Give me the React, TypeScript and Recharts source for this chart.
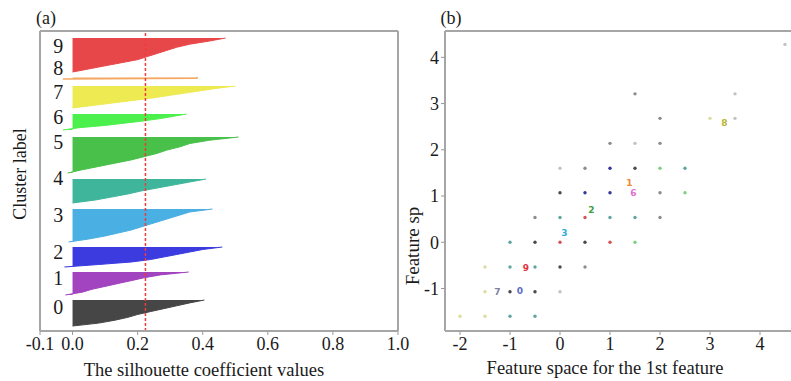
import React from "react";
import {
  ComposedChart,
  ScatterChart,
  Area,
  Scatter,
  XAxis,
  YAxis,
  ReferenceLine,
} from "recharts";

const SERIF = "'Liberation Serif', 'Times New Roman', serif";
const FRAME = { stroke: "#a6a6a6", strokeWidth: 2 };

// ---- (a) silhouette plot ----
const clusterIds = [0, 1, 2, 3, 4, 5, 6, 7, 8, 9];
const clusterColors = [
  "#464646", "#a243c0", "#3b3be0", "#4aafe2", "#3fb69c",
  "#48c04a", "#4cf04c", "#eeea52", "#f4a862", "#e8474a",
];
const clusterLower = [5, 36, 64, 89, 128, 158, 201, 223, 252, 259];
const clusterSize = [26, 23, 20, 33, 24, 36, 16, 22, 1.5, 34];

const sil0 = [0, 0.08, 0.13, 0.17, 0.2, 0.24, 0.28, 0.32, 0.36, 0.405];
const sil1 = [-0.022, 0.03, 0.06, 0.1, 0.14, 0.18, 0.22, 0.27, 0.357];
const sil2 = [-0.025, 0.08, 0.18, 0.24, 0.28, 0.32, 0.36, 0.4, 0.46];
const sil3 = [-0.012, 0.05, 0.1, 0.14, 0.18, 0.21, 0.24, 0.27, 0.3, 0.33, 0.36, 0.43];
const sil4 = [0, 0.07, 0.12, 0.17, 0.21, 0.26, 0.31, 0.36, 0.41];
const sil5 = [-0.015, 0.03, 0.08, 0.13, 0.18, 0.22, 0.26, 0.29, 0.33, 0.36, 0.42, 0.51];
const sil6 = [-0.03, 0.02, 0.1, 0.16, 0.22, 0.27, 0.31, 0.35];
const sil7 = [0, 0.06, 0.12, 0.18, 0.24, 0.29, 0.34, 0.39, 0.44, 0.5];
const sil8 = [-0.03, 0.38, 0.385];
const sil9 = [0, 0.05, 0.1, 0.15, 0.2, 0.23, 0.26, 0.29, 0.32, 0.36, 0.42, 0.47];
const silhouettes = [sil0, sil1, sil2, sil3, sil4, sil5, sil6, sil7, sil8, sil9];

const avgSilhouette = 0.224;
const silTicks = [-0.1, 0, 0.2, 0.4, 0.6, 0.8, 1.0];

const labelNames = ["0", "1", "2", "3", "4", "5", "6", "7", "8", "9"];
const labelY = [24, 53, 79, 116, 153, 189, 214, 239, 263, 285];
const labelX = -0.044;

const silRows = clusterIds.flatMap((k) => {
  const vals = silhouettes[k];
  return vals.map((v, i) => ({
    y: clusterLower[k] + (clusterSize[k] * i) / (vals.length - 1),
    ["c" + k]: v,
  }));
});
const labelRows = clusterIds.map((k) => ({ x: labelX, y: labelY[k], name: labelNames[k] }));

// ---- (b) feature space ----
const dotsDark = [[1.5, 1.6], [0, 1.07], [-0.5, 0], [0.5, 0], [0, -0.535], [-1, -1.07], [-0.5, -1.07]];
const dotsGray = [[1.5, 3.21], [2, 2.68], [1, 2.14], [2, 2.14], [0.5, 1.6], [2, 1.07], [-0.5, 0.535], [2, 0.535], [0.5, -0.535]];
const dotsLight = [[3.5, 3.21], [3.5, 2.68], [1.5, 2.14], [0, 1.6], [0, -1.07], [4.5, 4.28]];
const dotsNavy = [[1, 1.6], [0.5, 1.07], [1, 1.07]];
const dotsTeal = [[0, 0.535], [1, 0.535], [1.5, 0.535], [-1, 0], [-1, -0.535], [-0.5, -0.535], [-1, -1.6], [-0.5, -1.6], [2.5, 1.6]];
const dotsGreen = [[2, 1.6], [2.5, 1.07], [1.5, 0]];
const dotsRed = [[0.5, 0.535], [0, 0], [1, 0]];
const dotsPale = [[3, 2.68], [-1.5, -0.535], [-1.5, -1.07], [-2, -1.6], [-1.5, -1.6]];

const dotGroups = [
  { pts: dotsPale, color: "#dcdc9c" },
  { pts: dotsLight, color: "#c2c2c2" },
  { pts: dotsGray, color: "#8c8c8c" },
  { pts: dotsDark, color: "#4a4a4a" },
  { pts: dotsNavy, color: "#35359a" },
  { pts: dotsTeal, color: "#5fa69e" },
  { pts: dotsGreen, color: "#7fd07f" },
  { pts: dotsRed, color: "#d45454" },
];

const centerNames = ["3", "1", "6", "2", "9", "0", "7", "8"];
const centerX = [0.09, 1.39, 1.47, 0.63, -0.68, -0.8, -1.25, 3.29];
const centerY = [0.19, 1.28, 1.06, 0.7, -0.56, -1.05, -1.07, 2.58];
const centerColors = ["#2fb0d8", "#f08a30", "#e070c8", "#3e9e44", "#e0303e", "#5a6cc8", "#8080a0", "#b4b434"];

const featXTicks = [-2, -1, 0, 1, 2, 3, 4];
const featYTicks = [-1, 0, 1, 2, 3, 4];

const toPts = (arr: number[][]) => arr.map(([x, y]) => ({ x, y }));
const centerRows = centerNames.map((n, i) => ({ x: centerX[i], y: centerY[i], name: n, color: centerColors[i] }));

const bottomTick = (digits?: number) => (p: any) => (
  <text x={p.x} y={p.y} dy="0.71em" textAnchor="middle" fontFamily={SERIF} fontSize={18} fill="#1a1a1a">
    {digits ? Number(p.payload.value).toFixed(digits) : p.payload.value}
  </text>
);

const leftTick = (p: any) => (
  <text x={p.x} y={p.y} dy="0.355em" textAnchor="end" fontFamily={SERIF} fontSize={18} fill="#1a1a1a">
    {p.payload.value}
  </text>
);

const Title = ({ text, x, y, rotate, size = 18 }: any) => (
  <div
    style={{
      position: "absolute",
      left: x,
      top: y,
      transform: `translate(-50%, -50%)${rotate ? " rotate(-90deg)" : ""}`,
      whiteSpace: "nowrap",
      fontFamily: SERIF,
      fontSize: size,
      color: "#1a1a1a",
      lineHeight: 1,
    }}
  >
    {text}
  </div>
);

export default function App() {
  return (
    <div style={{ position: "absolute", left: 0, top: 0, width: 791, height: 381, background: "#fff", overflow: "hidden", fontFamily: SERIF }}>
      <div style={{ position: "absolute", left: 0, top: 0 }}>
        <ComposedChart layout="vertical" width={414} height={381} data={silRows} margin={{ top: 30, right: 15, bottom: 0, left: 0 }}>
          <XAxis
            type="number"
            domain={[-0.1, 1.0]}
            ticks={silTicks}
            allowDataOverflow
            height={50}
            tick={bottomTick(1)}
            tickSize={4}
            tickLine={{ stroke: "#999" }}
            axisLine={FRAME}
          />
          <XAxis xAxisId="top" orientation="top" type="number" domain={[-0.1, 1.0]} height={1} tick={false} tickLine={false} axisLine={FRAME} />
          <YAxis type="number" dataKey="y" domain={[0, 300]} reversed allowDataOverflow width={40} tick={false} tickLine={false} axisLine={FRAME} />
          <YAxis yAxisId="right" orientation="right" type="number" domain={[0, 300]} width={1} tick={false} tickLine={false} axisLine={FRAME} />
          {clusterIds.map((k) => (
            <Area
              key={k}
              type="linear"
              dataKey={"c" + k}
              fill={clusterColors[k]}
              fillOpacity={1}
              stroke={clusterColors[k]}
              strokeWidth={k === 8 ? 1.5 : 1}
              isAnimationActive={false}
              dot={false}
              activeDot={false}
            />
          ))}
          <ReferenceLine x={avgSilhouette} stroke="#ee3b3b" strokeWidth={1.5} strokeDasharray="3 2" />
          <Scatter
            data={labelRows}
            dataKey="x"
            isAnimationActive={false}
            shape={(p: any) => (
              <text x={p.cx} y={p.cy} textAnchor="middle" dominantBaseline="central" fontFamily={SERIF} fontSize={20} fill="#1a1a1a">
                {p.payload.name}
              </text>
            )}
          />
        </ComposedChart>
      </div>

      <div style={{ position: "absolute", left: 400, top: 0 }}>
        <ScatterChart width={391} height={381} margin={{ top: 30, right: 0, bottom: 0, left: 0 }}>
          <XAxis
            type="number"
            dataKey="x"
            domain={[-2.3, 4.62]}
            ticks={featXTicks}
            allowDataOverflow
            height={50}
            tick={bottomTick()}
            tickSize={4}
            tickLine={{ stroke: "#999" }}
            axisLine={FRAME}
          />
          <XAxis xAxisId="top" orientation="top" type="number" domain={[-2.3, 4.62]} height={1} tick={false} tickLine={false} axisLine={FRAME} />
          <YAxis
            type="number"
            dataKey="y"
            domain={[-1.92, 4.57]}
            ticks={featYTicks}
            allowDataOverflow
            width={45}
            tick={leftTick}
            tickSize={4}
            tickLine={{ stroke: "#999" }}
            axisLine={FRAME}
          />
          {dotGroups.map((g, i) => (
            <Scatter
              key={i}
              data={toPts(g.pts)}
              fill={g.color}
              isAnimationActive={false}
              shape={(p: any) => <circle cx={p.cx} cy={p.cy} r={1.7} fill={g.color} />}
            />
          ))}
          <Scatter
            data={centerRows}
            isAnimationActive={false}
            shape={(p: any) => (
              <text x={p.cx} y={p.cy} textAnchor="middle" dominantBaseline="central" fontFamily="'DejaVu Sans', sans-serif" fontWeight="bold" fontSize={9} fill={p.payload.color}>
                {p.payload.name}
              </text>
            )}
          />
        </ScatterChart>
      </div>

      <Title text="(a)" x={46} y={18} />
      <Title text="(b)" x={451} y={18} />
      <Title text="Cluster label" x={20} y={174} rotate />
      <Title text="The silhouette coefficient values" x={204} y={370} size={18.5} />
      <Title text="Feature sp" x={412} y={246} rotate size={19} />
      <Title text="Feature space for the 1st feature" x={605} y={368} size={18.5} />
    </div>
  );
}
